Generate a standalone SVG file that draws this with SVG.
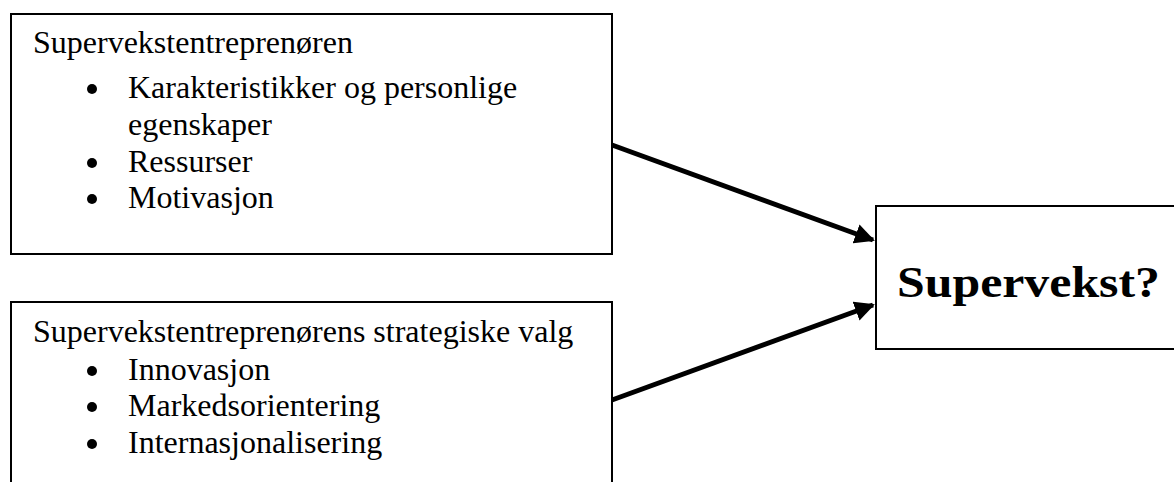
<svg xmlns="http://www.w3.org/2000/svg" width="1174" height="482" viewBox="0 0 1174 482">
<style>
.box{fill:#fff;stroke:#000;stroke-width:2}
.t{font-family:"Liberation Serif","Times New Roman",serif;font-size:32px;fill:#000}
.b{font-family:"Liberation Serif","Times New Roman",serif;font-size:44px;font-weight:bold;fill:#000}
.conn{stroke:#000;stroke-width:5;fill:none}
</style>
<defs>
<marker id="ah" viewBox="0 0 10 10" refX="9" refY="5" markerWidth="4" markerHeight="4" markerUnits="strokeWidth" orient="auto">
<path d="M0,0 L10,5 L0,10 z" fill="#000"/>
</marker>
</defs>
<g id="node1">
<rect class="box" x="11" y="14" width="601" height="240"/>
<text class="t" x="33" y="53">Supervekstentreprenøren</text>
<circle cx="92" cy="89" r="5"/>
<text class="t" x="128" y="98">Karakteristikker og personlige</text>
<text class="t" x="128" y="135">egenskaper</text>
<circle cx="92" cy="163" r="5"/>
<text class="t" x="128" y="172">Ressurser</text>
<circle cx="92" cy="199" r="5"/>
<text class="t" x="128" y="208">Motivasjon</text>
</g>
<g id="node2">
<rect class="box" x="11" y="302" width="601" height="190"/>
<text class="t" x="33" y="342">Supervekstentreprenørens strategiske valg</text>
<circle cx="92" cy="371" r="5"/>
<text class="t" x="128" y="380">Innovasjon</text>
<circle cx="92" cy="407" r="5"/>
<text class="t" x="128" y="416">Markedsorientering</text>
<circle cx="92" cy="444" r="5"/>
<text class="t" x="128" y="453">Internasjonalisering</text>
</g>
<g id="node3">
<rect class="box" x="876" y="206" width="300" height="143"/>
<text class="b" x="897" y="297" textLength="263" lengthAdjust="spacingAndGlyphs">Supervekst?</text>
</g>
<g id="connectors">
<line class="conn" x1="612" y1="145" x2="873" y2="240" marker-end="url(#ah)"/>
<line class="conn" x1="612" y1="400" x2="873" y2="305" marker-end="url(#ah)"/>
</g>
</svg>
